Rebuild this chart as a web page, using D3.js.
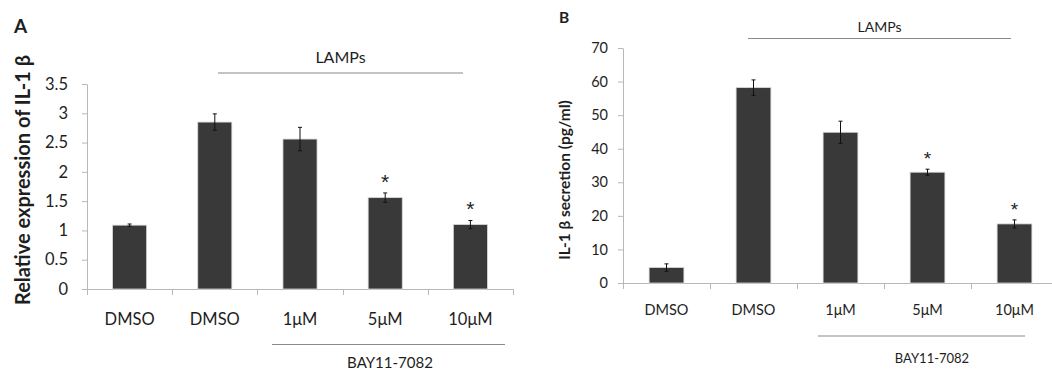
<!DOCTYPE html>
<html><head><meta charset="utf-8">
<script src="https://cdn.jsdelivr.net/npm/d3@7"></script>
<style>
html,body{margin:0;padding:0;background:#fff;}
svg{display:block;font-family:Lato,"Open Sans",sans-serif;}
</style></head>
<body>
<svg id="chart" width="1052" height="370"></svg>
<script>
// ---- data ----
const categories = ["DMSO", "DMSO", "1μM", "5μM", "10μM"];
const valuesA = [1.09, 2.85, 2.56, 1.56, 1.10];
const errorsA = [0.02, 0.14, 0.20, 0.08, 0.07];
const valuesB = [4.6, 58.2, 44.9, 33.0, 17.6];
const errorsB = [1.1, 2.3, 3.3, 0.9, 1.2];
const significant = [false, false, false, true, true];
const ticksA = [0, 0.5, 1, 1.5, 2, 2.5, 3, 3.5];
const ticksB = [0, 10, 20, 30, 40, 50, 60, 70];
const tickLabelsA = ["0", "0.5", "1", "1.5", "2", "2.5", "3", "3.5"];
const tickLabelsB = ["0", "10", "20", "30", "40", "50", "60", "70"];
const groupTop = "LAMPs";
const groupBottom = "BAY11-7082";

const svg = d3.select("#chart");
const TXT = "#1e1e1e";

function panel(cfg) {
  const g = svg.append("g");
  const idx = categories.map((d, i) => i);
  const x = d3.scaleBand().domain(idx).range([cfg.x0, cfg.x1]).paddingInner(0.6).paddingOuter(0.3);
  const y = d3.scaleLinear().domain([0, cfg.max]).range([cfg.yBase, cfg.yTop]);

  // y axis
  const ya = d3.axisLeft(y).tickValues(cfg.ticks).tickFormat((d, i) => cfg.tickLabels[i]).tickSize(5).tickPadding(cfg.yPad).tickSizeOuter(0);
  const yg = g.append("g").attr("transform", `translate(${cfg.x0},0)`).call(ya);
  yg.select(".domain").attr("stroke", "#b8b8b8");
  yg.selectAll(".tick line").attr("stroke", "#b8b8b8");
  yg.selectAll(".tick text").attr("font-size", cfg.tickFont).attr("fill", TXT).attr("font-family", "Lato");

  // x axis baseline & boundary ticks
  g.append("line").attr("x1", cfg.x0).attr("x2", cfg.x1).attr("y1", cfg.yBase + 0.5).attr("y2", cfg.yBase + 0.5)
    .attr("stroke", "#b8b8b8");
  const bounds = d3.range(categories.length + 1).map(i => cfg.x0 + i * x.step());
  g.selectAll(".xt").data(bounds).join("line")
    .attr("x1", d => Math.round(d) + 0.5).attr("x2", d => Math.round(d) + 0.5)
    .attr("y1", cfg.yBase).attr("y2", cfg.yBase + 6).attr("stroke", "#b8b8b8");

  // x labels
  const xa = d3.axisBottom(x).tickFormat(i => categories[i]).tickSize(0).tickPadding(cfg.xPad);
  const xg = g.append("g").attr("transform", `translate(0,${cfg.yBase})`).call(xa);
  xg.select(".domain").remove();
  xg.selectAll(".tick text").attr("font-size", cfg.xFont).attr("fill", TXT).attr("font-family", "Lato");

  // bars
  g.selectAll(".bar").data(cfg.values).join("rect")
    .attr("x", (d, i) => x(i)).attr("width", x.bandwidth())
    .attr("y", d => y(d)).attr("height", d => y(0) - y(d))
    .attr("fill", "#393939").attr("stroke", "#d8d8d8").attr("stroke-width", 0.8);

  // error bars
  const eb = g.selectAll(".eb").data(cfg.values).join("g")
    .attr("transform", (d, i) => `translate(${x(i) + x.bandwidth() / 2},0)`);
  eb.append("line").attr("x1", 0).attr("x2", 0)
    .attr("y1", (d, i) => y(d + cfg.errors[i])).attr("y2", (d, i) => y(d - cfg.errors[i]))
    .attr("stroke", "#111").attr("stroke-width", 1);
  eb.append("line").attr("x1", -2).attr("x2", 2)
    .attr("y1", (d, i) => y(d + cfg.errors[i])).attr("y2", (d, i) => y(d + cfg.errors[i]))
    .attr("stroke", "#111").attr("stroke-width", 1);
  eb.append("line").attr("x1", -2).attr("x2", 2)
    .attr("y1", (d, i) => y(d - cfg.errors[i])).attr("y2", (d, i) => y(d - cfg.errors[i]))
    .attr("stroke", "#111").attr("stroke-width", 1);

  // significance stars
  g.selectAll(".star").data(cfg.values.map((v, i) => ({v, i})).filter(d => significant[d.i])).join("text")
    .attr("x", d => x(d.i) + x.bandwidth() / 2)
    .attr("y", d => y(d.v + cfg.errors[d.i]) - cfg.starGap)
    .attr("text-anchor", "middle").attr("font-size", cfg.starFont).attr("fill", TXT)
    .attr("font-family", "Liberation Sans")
    .text("*");

  // LAMPs group line
  g.append("line").attr("x1", cfg.topLine[0]).attr("x2", cfg.topLine[1])
    .attr("y1", cfg.topLine[2]).attr("y2", cfg.topLine[2]).attr("stroke", "#8a8a8a").attr("stroke-width", 1.2);
  g.append("text").attr("x", (cfg.topLine[0] + cfg.topLine[1]) / 2).attr("y", cfg.topText)
    .attr("text-anchor", "middle").attr("font-size", cfg.grpFont).attr("fill", TXT).text(groupTop);

  // BAY group line
  g.append("line").attr("x1", cfg.botLine[0]).attr("x2", cfg.botLine[1])
    .attr("y1", cfg.botLine[2]).attr("y2", cfg.botLine[2]).attr("stroke", "#8a8a8a").attr("stroke-width", 1.2);
  g.append("text").attr("x", cfg.botTextX).attr("y", cfg.botText)
    .attr("text-anchor", "middle").attr("font-size", cfg.botFont).attr("fill", TXT).text(groupBottom);

  // y title
  g.append("text").attr("transform", `translate(${cfg.titleX},${cfg.titleY}) rotate(-90)`)
    .attr("text-anchor", "middle").attr("font-size", cfg.titleFont).attr("font-weight", "bold")
    .attr("fill", TXT).text(cfg.title);

  // panel letter
  g.append("text").attr("x", cfg.letterX).attr("y", cfg.letterY).attr("font-size", cfg.letterFont)
    .attr("font-weight", "bold").attr("fill", TXT).text(cfg.letter);
}

panel({
  x0: 87, x1: 513, yBase: 289, yTop: 84, max: 3.5,
  ticks: ticksA, tickLabels: tickLabelsA, values: valuesA, errors: errorsA,
  yPad: 14, tickFont: 16.5, xPad: 24, xFont: 16.5, starFont: 21, starGap: 4,
  topLine: [218, 463, 73], topText: 63, grpFont: 16,
  botLine: [272, 505, 344.5], botText: 368, botTextX: 390, botFont: 15,
  title: "Relative expression of IL-1 β", titleX: 30, titleY: 180, titleFont: 20,
  letter: "A", letterX: 14, letterY: 33, letterFont: 19
});

panel({
  x0: 623, x1: 1058, yBase: 283, yTop: 48, max: 70,
  ticks: ticksB, tickLabels: tickLabelsB, values: valuesB, errors: errorsB,
  yPad: 10, tickFont: 14.5, xPad: 22, xFont: 14.5, starFont: 19, starGap: 4,
  topLine: [748, 1011, 38.5], topText: 32, grpFont: 14,
  botLine: [818, 1025, 336], botText: 363, botTextX: 932, botFont: 13,
  title: "IL-1 β secretion (pg/ml)", titleX: 570, titleY: 180, titleFont: 15.5,
  letter: "B", letterX: 559, letterY: 23, letterFont: 15.5
});
</script>
</body></html>
